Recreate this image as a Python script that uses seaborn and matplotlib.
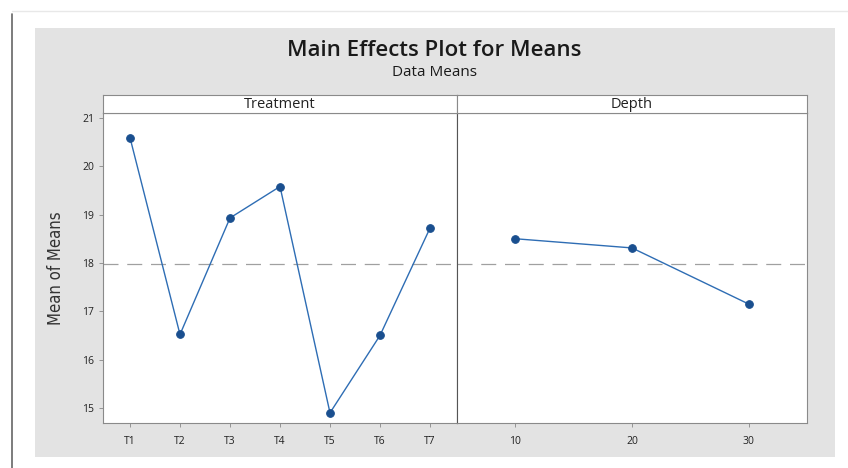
import matplotlib
matplotlib.use("Agg")
import matplotlib.pyplot as plt
import seaborn as sns
import pandas as pd
from matplotlib.patches import Rectangle
from matplotlib.lines import Line2D

# main effects data
treatments = ["T1", "T2", "T3", "T4", "T5", "T6", "T7"]
treatment_means = [20.59, 16.52, 18.93, 19.58, 14.90, 16.50, 18.72]
depths = ["10", "20", "30"]
depth_means = [18.50, 18.31, 17.15]
y_ticks = [15, 16, 17, 18, 19, 20, 21]

sns.set_style("white")
plt.rcParams['font.family'] = ['Open Sans', 'DejaVu Sans']

W, H = 848, 468
fig = plt.figure(figsize=(W / 100, H / 100), dpi=100)
fig.patch.set_facecolor("white")

def fx(px):
    return px / W

def fy(py):
    return 1 - py / H

# gray backdrop + outer frame lines
fig.patches.append(Rectangle((fx(35), fy(457)), fx(835) - fx(35), fy(28) - fy(457),
                             transform=fig.transFigure, facecolor="#e3e3e3", edgecolor="none", zorder=-10))
fig.lines.append(Line2D([fx(12), fx(12)], [fy(14), fy(468)], transform=fig.transFigure, color="#666666", lw=1.2))
fig.lines.append(Line2D([fx(12), fx(848)], [fy(11), fy(11)], transform=fig.transFigure, color="#e8e8e8", lw=1))

fig.text(fx(434), fy(50), "Main Effects Plot for Means", ha="center", va="center", fontsize=16,
         color="#1a1a1a", weight="semibold")
fig.text(fx(434), fy(73), "Data Means", ha="center", va="center", fontsize=11, color="#1a1a1a")

top, bot = 113, 423
ax1 = fig.add_axes([fx(103), fy(bot), fx(457) - fx(103), fy(top) - fy(bot)])
ax2 = fig.add_axes([fx(457), fy(bot), fx(807) - fx(457), fy(top) - fy(bot)], sharey=ax1)

blue = "#2e6db4"
dark = "#1a4f8f"
df_t = pd.DataFrame({"factor": treatments, "mean": treatment_means})
df_d = pd.DataFrame({"factor": depths, "mean": depth_means})
grand = (sum(treatment_means) / len(treatment_means) + sum(depth_means) / len(depth_means)) / 2

for ax, df, pad in [(ax1, df_t, 0.54), (ax2, df_d, 0.5)]:
    ax.axhline(grand, color="#a0a0a0", lw=0.9, dashes=(12, 7), zorder=1)
    sns.lineplot(data=df, x="factor", y="mean", ax=ax, color=blue, lw=1.0, sort=False,
                 marker="o", markersize=5.5, markerfacecolor=dark, markeredgecolor=dark, zorder=3)
    ax.set_xlim(-pad, len(df) - 1 + pad)
    ax.set_facecolor("white")
    ax.set_xlabel("")
    ax.set_ylabel("")
    for s in ax.spines.values():
        s.set_color("#8a8a8a")
        s.set_linewidth(0.8)
    ax.tick_params(axis="x", length=3, width=0.6, color="#888888", labelsize=7.5, labelcolor="#222222", pad=6,
                   bottom=True)

ax1.set_ylim(14.69, 21.1)
ax1.set_yticks(y_ticks)
ax1.tick_params(axis="y", length=3, width=0.6, color="#888888", labelsize=7.5, labelcolor="#222222", left=True)
ax2.tick_params(axis="y", left=False, labelleft=False)
ax1.spines["right"].set_color("#555555")
ax2.spines["left"].set_color("#555555")
ax1.set_ylabel("Mean of Means", fontsize=12, color="#333333", family=["DejaVu Sans"], stretch="condensed",
               labelpad=12)

# strip headers
for left, right, label in [(103, 457, "Treatment"), (457, 807, "Depth")]:
    sax = fig.add_axes([fx(left), fy(top), fx(right) - fx(left), fy(95) - fy(top)])
    sax.set_facecolor("white")
    sax.set_xticks([])
    sax.set_yticks([])
    for s in sax.spines.values():
        s.set_color("#8a8a8a")
        s.set_linewidth(0.8)
    sax.text(0.5, 0.5, label, ha="center", va="center", fontsize=10.5, color="#222222", transform=sax.transAxes)

fig.savefig("out.png", dpi=100)
